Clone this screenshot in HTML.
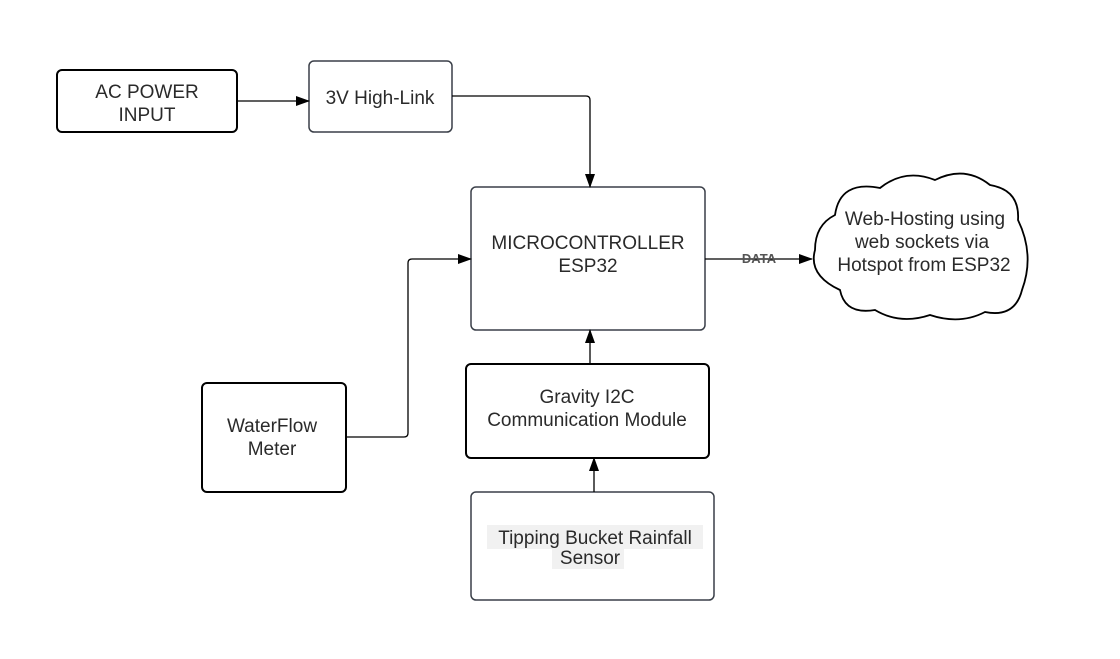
<!DOCTYPE html>
<html><head><meta charset="utf-8"><style>
html,body{margin:0;padding:0;background:#fff;}
svg{display:block;}
text{font-family:"Liberation Sans",Arial,sans-serif;fill:#2a2a2a;font-size:19px;}
</style></head><body>
<svg width="1120" height="659" viewBox="0 0 1120 659" xmlns="http://www.w3.org/2000/svg">
<defs>
<marker id="a" markerWidth="14" markerHeight="10" refX="13" refY="5" orient="auto" markerUnits="userSpaceOnUse">
<path d="M0,0 L14,5 L0,10 Z" fill="#000"/></marker>
</defs>
<rect width="1120" height="659" fill="#fff"/>
<rect x="57" y="70" width="180" height="62" rx="5" fill="#fff" stroke="#000" stroke-width="2"/>
<rect x="309" y="61" width="143" height="71" rx="5" fill="#fff" stroke="#3a3f48" stroke-width="1.5"/>
<rect x="471" y="187" width="234" height="143" rx="5" fill="#fff" stroke="#3a3f48" stroke-width="1.5"/>
<rect x="466" y="364" width="243" height="94" rx="5" fill="#fff" stroke="#000" stroke-width="2"/>
<rect x="471" y="492" width="243" height="108" rx="5" fill="#fff" stroke="#3a3f48" stroke-width="1.5"/>
<rect x="202" y="383" width="144" height="109" rx="5" fill="#fff" stroke="#000" stroke-width="2"/>
<path d="M835,215 Q840,180 880,188 Q905,168 935,180 Q965,165 990,185 Q1020,190 1018,220 Q1035,255 1022,290 Q1015,318 985,312 Q960,325 930,315 Q900,325 875,310 Q845,315 840,290 Q808,275 815,250 Q815,225 835,215 Z" fill="#fff" stroke="#000" stroke-width="1.8"/>
<line x1="237" y1="101" x2="309" y2="101" stroke="#000" stroke-width="1.3" marker-end="url(#a)"/>
<path d="M452,96 H586 Q590,96 590,100 V187" fill="none" stroke="#000" stroke-width="1.3" marker-end="url(#a)"/>
<path d="M346,437 H404 Q408,437 408,433 V263 Q408,259 412,259 H471" fill="none" stroke="#000" stroke-width="1.3" marker-end="url(#a)"/>
<line x1="705" y1="259" x2="812" y2="259" stroke="#000" stroke-width="1.3" marker-end="url(#a)"/>
<text x="759" y="263" text-anchor="middle" style="font-size:13px;font-weight:bold;fill:#555">DATA</text>
<line x1="590" y1="364" x2="590" y2="330" stroke="#000" stroke-width="1.3" marker-end="url(#a)"/>
<line x1="594" y1="492" x2="594" y2="458" stroke="#000" stroke-width="1.3" marker-end="url(#a)"/>
<text x="147" y="98" text-anchor="middle">AC POWER</text>
<text x="147" y="121" text-anchor="middle">INPUT</text>
<text x="380" y="104" text-anchor="middle">3V High-Link</text>
<text x="588" y="249" text-anchor="middle">MICROCONTROLLER</text>
<text x="588" y="272" text-anchor="middle">ESP32</text>
<text x="587" y="403" text-anchor="middle">Gravity I2C</text>
<text x="587" y="426" text-anchor="middle">Communication Module</text>
<rect x="487" y="525" width="216" height="24" fill="#f1f1f1"/>
<rect x="552" y="549" width="72" height="20" fill="#f1f1f1"/>
<text x="595" y="544" text-anchor="middle">Tipping Bucket Rainfall</text>
<text x="590" y="564" text-anchor="middle">Sensor</text>
<text x="272" y="432" text-anchor="middle">WaterFlow</text>
<text x="272" y="455" text-anchor="middle">Meter</text>
<text x="925" y="225" text-anchor="middle">Web-Hosting using</text>
<text x="922" y="248" text-anchor="middle">web sockets via</text>
<text x="924" y="271" text-anchor="middle">Hotspot from ESP32</text>
</svg>
</body></html>
